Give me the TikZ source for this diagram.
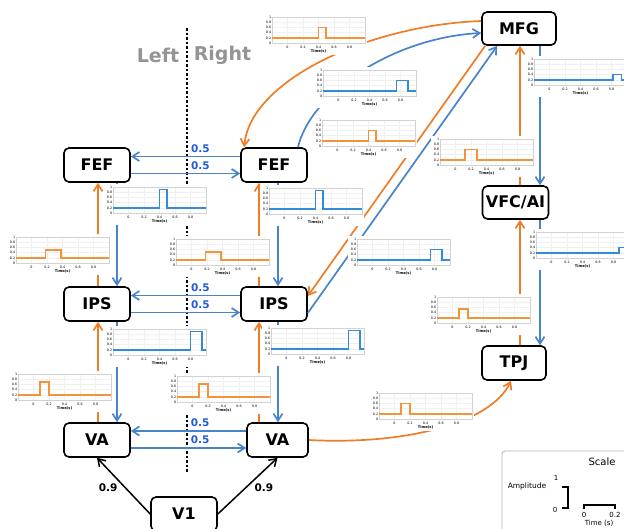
\documentclass[tikz,border=0pt]{standalone}
\usepackage{fontspec}
\setmainfont{DejaVu Sans}
\usetikzlibrary{arrows.meta}

\definecolor{orangeline}{RGB}{239,125,38}
\definecolor{blueline}{RGB}{72,132,200}
\definecolor{weightblue}{RGB}{28,92,214}
\definecolor{traceorange}{RGB}{246,146,56}
\definecolor{traceblue}{RGB}{50,140,215}

% small response trace: left edge, axis bottom, colour, on, off, level
\newcommand{\resptrace}[6]{%
  \begin{scope}[shift={(#1+15.5,#2)}, x=77.5pt, y=26pt]
    \fill[white] (-0.32,-0.47) rectangle (1.03,1.12);
    \foreach \tv in {0,0.2,0.4,0.6,0.8}
      \draw[gray!12, line width=0.3pt] (\tv,0) -- (\tv,1);
    \foreach \av in {0.2,0.4,0.6,0.8}
      \draw[gray!12, line width=0.3pt] (-0.2,\av) -- (1,\av);
    \draw[gray!35, line width=0.4pt] (-0.2,0) rectangle (1,1);
    \foreach \av in {0,0.2,0.4,0.6,0.8,1}
      \node[ticklbl, anchor=east] at (-0.2,\av) {\av};
    \foreach \tv in {0,0.2,0.4,0.6,0.8}
      \node[ticklbl] at (\tv,-0.15) {\tv};
    \node[ticklbl, font=\fontsize{3.6}{3.6}\selectfont\bfseries] at (0.4,-0.34) {Time(s)};
    \draw[#3, line width=1.7pt] (-0.2,0.2) -- (#4,0.2) -- (#4,#6) -- (#5,#6) -- (#5,0.2) -- (1,0.2);
  \end{scope}}

\begin{document}
\begin{tikzpicture}[x=1pt, y=-1pt,
  area/.style={draw, line width=1.6pt, rounded corners=5pt, fill=white,
    minimum width=66pt, minimum height=34pt, inner sep=2pt,
    font=\fontsize{16}{18}\selectfont\bfseries},
  orangeflow/.style={orangeline, line width=1.7pt, -{Straight Barb[length=7pt, width=9pt]}},
  blueflow/.style={blueline, line width=1.7pt, -{Straight Barb[length=7pt, width=9pt]}},
  drive/.style={black, line width=1.5pt, -{Straight Barb[length=7pt, width=9pt]}},
  weight/.style={weightblue, font=\fontsize{10.5}{12}\selectfont\bfseries, inner sep=1.5pt,
    anchor=south west, yshift=2pt},
  vweight/.style={black, font=\fontsize{10.5}{12}\selectfont\bfseries, inner sep=1.5pt},
  ticklbl/.style={font=\fontsize{3.3}{3.3}\selectfont, inner sep=0.6pt},
  side/.style={text=black!42, font=\fontsize{19}{20}\selectfont\bfseries},
  divide/.style={line width=1.7pt, dash pattern=on 2.5pt off 2pt}]

\useasboundingbox (0,0) rectangle (624,528);

% areas
\node[area, minimum width=74pt, minimum height=33pt] (mfg) at (519,28.5) {MFG};
\node[area, minimum height=33pt] (vfc) at (515.5,202.5) {VFC/AI};
\node[area, minimum width=64pt] (tpj) at (514,363) {TPJ};
\node[area] (fefL) at (97,165) {FEF};
\node[area] (fefR) at (274,165) {FEF};
\node[area] (ipsL) at (97,304) {IPS};
\node[area] (ipsR) at (274,304) {IPS};
\node[area] (vaL) at (97,440) {VA};
\node[area, minimum width=61pt] (vaR) at (277.5,440) {VA};
\node[area] (v1) at (184,514) {V1};

% midline
\node[side] (leftlbl) at (158,55) {Left};
\node[side] (rightlbl) at (222.5,55) {Right};
\draw[divide] (187,28) -- (187,472);

% columns of the vertical links
\coordinate (lo) at (98,0);
\coordinate (lb) at (117,0);
\coordinate (ro) at (259,0);
\coordinate (rb) at (278,0);
\coordinate (mo) at (520,0);
\coordinate (mb) at (540,0);

% left hemisphere
\draw[blueflow] (fefL.south -| lb) -- (ipsL.north -| lb);
\draw[orangeflow] (ipsL.north -| lo) -- (fefL.south -| lo);
\draw[blueflow] (ipsL.south -| lb) -- (vaL.north -| lb);
\draw[orangeflow] (vaL.north -| lo) -- (ipsL.south -| lo);

% right hemisphere
\draw[blueflow] (fefR.south -| rb) -- (ipsR.north -| rb);
\draw[orangeflow] (ipsR.north -| ro) -- (fefR.south -| ro);
\draw[blueflow] (ipsR.south -| rb) -- (vaR.north -| rb);
\draw[orangeflow] (vaR.north -| ro) -- (ipsR.south -| ro);

% across the midline
\draw[blueflow] ([yshift=8.5pt]fefR.west) -- node[weight, pos=0.47] (wfef1) {0.5} ([yshift=8.5pt]fefL.east);
\draw[blueflow] ([yshift=-8.5pt]fefL.east) -- node[weight, pos=0.53] (wfef2) {0.5} ([yshift=-8.5pt]fefR.west);
\draw[blueflow] ([yshift=8.5pt]ipsR.west) -- node[weight, pos=0.47] (wips1) {0.5} ([yshift=8.5pt]ipsL.east);
\draw[blueflow] ([yshift=-8.5pt]ipsL.east) -- node[weight, pos=0.53] (wips2) {0.5} ([yshift=-8.5pt]ipsR.west);
\draw[blueflow] ([yshift=9pt]vaR.west) -- node[weight, pos=0.5] (wva1) {0.5} ([yshift=9pt]vaL.east);
\draw[blueflow] ([yshift=-8pt]vaL.east) -- node[weight, pos=0.5] (wva2) {0.5} ([yshift=-8pt]vaR.west);

% input
\draw[drive] (v1.west) -- node[vweight, pos=0.46, left=6pt] (wv1l) {0.9} (vaL.south);
\draw[drive] (v1.east) -- node[vweight, pos=0.46, right=7pt] (wv1r) {0.9} (vaR.south);

% ventral chain
\draw[blueflow] (mfg.south -| mb) -- (vfc.north -| mb);
\draw[orangeflow] (vfc.north -| mo) -- (mfg.south -| mo);
\draw[blueflow] (vfc.south -| mb) -- (tpj.north -| mb);
\draw[orangeflow] (tpj.north -| mo) -- (vfc.south -| mo);

% long links
\draw[orangeflow] ([yshift=7.5pt]mfg.west) .. controls (370,25) and (250,80) .. ([xshift=4pt]fefR.north west);
\draw[blueflow] ([xshift=24pt]fefR.north) .. controls (310,95) and (390,38) .. ([yshift=-4.5pt]mfg.west);
\draw[orangeflow] ([xshift=4pt]mfg.south west) -- ([yshift=8pt]ipsR.east);
\draw[blueflow] ([yshift=-9pt]ipsR.east) -- ([xshift=16pt]mfg.south west);
\draw[orangeflow] (vaR.east) .. controls (400,445) and (490,425) .. ([xshift=-3pt]tpj.south);

% traces
\resptrace{272}{43}{traceorange}{0.4}{0.5}{0.6}
\resptrace{323}{96}{traceblue}{0.75}{0.9}{0.6}
\resptrace{322}{146}{traceorange}{0.4}{0.5}{0.6}
\resptrace{440}{165}{traceorange}{0.12}{0.28}{0.6}
\resptrace{534}{85}{traceblue}{0.82}{0.93}{0.4}
\resptrace{536}{258}{traceblue}{0.87}{0.97}{0.4}
\resptrace{437}{323}{traceorange}{0.08}{0.2}{0.55}
\resptrace{379}{419}{traceorange}{0.08}{0.2}{0.6}
\resptrace{357}{265}{traceblue}{0.75}{0.9}{0.6}
\resptrace{113}{213}{traceblue}{0.4}{0.5}{0.9}
\resptrace{16}{263}{traceorange}{0.18}{0.38}{0.5}
\resptrace{176}{265}{traceorange}{0.18}{0.38}{0.5}
\resptrace{269}{214}{traceblue}{0.4}{0.5}{0.9}
\resptrace{113}{355}{traceblue}{0.8}{0.95}{0.9}
\resptrace{271}{354}{traceblue}{0.8}{0.95}{0.9}
\resptrace{18}{400}{traceorange}{0.08}{0.2}{0.7}
\resptrace{177}{402}{traceorange}{0.08}{0.2}{0.7}

% scale
\draw[gray!60, line width=0.8pt, rounded corners=3pt] (502,451) rectangle (640,545);
\node[font=\fontsize{10}{11}\selectfont] (scalettl) at (602,462) {Scale};
\node[font=\fontsize{7.5}{8}\selectfont] (amplbl) at (527,486) {Amplitude};
\node[font=\fontsize{7}{8}\selectfont] (amp1) at (556,478) {1};
\node[font=\fontsize{7}{8}\selectfont] (amp0) at (555,510) {0};
\draw[line width=2pt] (562,487) -- (568,487) -- (568,508) -- (562,508);
\draw[line width=2pt] (584,509) -- (584,505) -- (615,505) -- (615,509);
\node[font=\fontsize{7}{8}\selectfont] (t0) at (584,515) {0};
\node[font=\fontsize{7}{8}\selectfont] (t2) at (615,515) {0.2};
\node[font=\fontsize{7}{8}\selectfont] (tlbl) at (599,523) {Time (s)};
\end{tikzpicture}
\end{document}
